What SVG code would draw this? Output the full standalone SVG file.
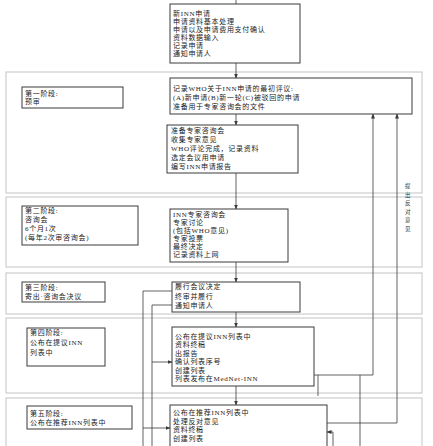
<svg xmlns="http://www.w3.org/2000/svg" width="433" height="446" viewBox="0 0 433 446">
<style>
.band{fill:none;stroke:#c4c4c4;stroke-width:1}
.box{fill:#fff;stroke:#3a3a3a;stroke-width:1}
.t{font-family:"Liberation Serif","Noto Sans CJK SC",serif;font-size:7px;letter-spacing:0.7px;fill:#222}
.vt{font-family:"Noto Sans CJK SC",sans-serif;font-size:5.5px;fill:#333}
.c{fill:none;stroke:#3a3a3a;stroke-width:0.8}
</style>
<defs>
<marker id="ah" markerWidth="5" markerHeight="5" refX="4.5" refY="2.5" orient="auto" markerUnits="userSpaceOnUse">
<path d="M0,0.5 L5,2.5 L0,4.5 Z" fill="#3a3a3a"/>
</marker>
</defs>
<g id="bands">
<rect class="band" x="6" y="72" width="416" height="121"/>
<rect class="band" x="6" y="197" width="416" height="70"/>
<rect class="band" x="6" y="273" width="416" height="41"/>
<rect class="band" x="6" y="318" width="416" height="75"/>
<rect class="band" x="6" y="398" width="416" height="52"/>
</g>
<g id="connectors">
<line class="c" x1="236" y1="0" x2="236" y2="4"/>
<line class="c" x1="236" y1="63" x2="236" y2="78" marker-end="url(#ah)"/>
<line class="c" x1="236" y1="114" x2="236" y2="125" marker-end="url(#ah)"/>
<line class="c" x1="236" y1="173" x2="236" y2="209" marker-end="url(#ah)"/>
<line class="c" x1="236" y1="262" x2="236" y2="282" marker-end="url(#ah)"/>
<line class="c" x1="236" y1="312" x2="236" y2="327" marker-end="url(#ah)"/>
<line class="c" x1="236" y1="386" x2="236" y2="405" marker-end="url(#ah)"/>
<polyline class="c" points="172,291 143,291 143,446"/>
<polyline class="c" points="172,305 152,305 152,446"/>
<polyline class="c" points="152,362 172,362" marker-end="url(#ah)"/>
<polyline class="c" points="143,428 170,428" marker-end="url(#ah)"/>
<polyline class="c" points="314,375 373,375 373,114" marker-end="url(#ah)"/>
<polyline class="c" points="327,423 397,423 397,114" marker-end="url(#ah)"/>
<polyline class="c" points="318,396 318,375"/>
<polyline class="c" points="360,375 360,446"/>
<polyline class="c" points="333,446 333,432 327,432" marker-end="url(#ah)"/>
</g>
<g id="nodeA">
<rect class="box" x="170" y="4" width="130" height="59"/>
<text class="t" x="173" y="16"><tspan x="173">新INN申请</tspan><tspan x="173" dy="8">申请资料基本处理</tspan><tspan x="173" dy="8">申请以及申请费用支付确认</tspan><tspan x="173" dy="8">资料数据输入</tspan><tspan x="173" dy="8">记录申请</tspan><tspan x="173" dy="8">通知申请人</tspan></text>
</g>
<g id="nodeB">
<rect class="box" x="170" y="78" width="242" height="36"/>
<text class="t" x="173" y="91"><tspan x="173">记录WHO关于INN申请的最初评议:</tspan><tspan x="173" dy="9">(A)新申请(B)新一轮(C)被驳回的申请</tspan><tspan x="173" dy="9">准备用于专家咨询会的文件</tspan></text>
</g>
<g id="phase1">
<rect class="box" x="22" y="87" width="101" height="21"/>
<text class="t" x="25" y="96"><tspan x="25">第一阶段:</tspan><tspan x="25" dy="8">预审</tspan></text>
</g>
<g id="nodeC">
<rect class="box" x="167" y="125" width="131" height="48"/>
<text class="t" x="171" y="133"><tspan x="171">准备专家咨询会</tspan><tspan x="171" dy="9">收集专家意见</tspan><tspan x="171" dy="9">WHO评论完成，记录资料</tspan><tspan x="171" dy="9">选定会议用申请</tspan><tspan x="171" dy="9">编写INN申请报告</tspan></text>
</g>
<g id="sidenote">
<text class="vt" x="405" y="188"><tspan x="405">提</tspan><tspan x="405" dy="8.5">出</tspan><tspan x="405" dy="8.5">反</tspan><tspan x="405" dy="8.5">对</tspan><tspan x="405" dy="8.5">意</tspan><tspan x="405" dy="8.5">见</tspan></text>
</g>
<g id="phase2">
<rect class="box" x="22" y="206" width="116" height="39"/>
<text class="t" x="25" y="213"><tspan x="25">第二阶段:</tspan><tspan x="25" dy="9">咨询会</tspan><tspan x="25" dy="9">6个月1次</tspan><tspan x="25" dy="9">(每年2次审咨询会)</tspan></text>
</g>
<g id="nodeD">
<rect class="box" x="170" y="209" width="118" height="53"/>
<text class="t" x="173" y="217"><tspan x="173">INN专家咨询会</tspan><tspan x="173" dy="8">专家讨论</tspan><tspan x="173" dy="8">(包括WHO意见)</tspan><tspan x="173" dy="8">专家投票</tspan><tspan x="173" dy="8">最终决定</tspan><tspan x="173" dy="8">记录资料上网</tspan></text>
</g>
<g id="phase3">
<rect class="box" x="22" y="282" width="83" height="20"/>
<text class="t" x="25" y="290"><tspan x="25">第三阶段:</tspan><tspan x="25" dy="9">寄出·咨询会决议</tspan></text>
</g>
<g id="nodeE">
<rect class="box" x="172" y="282" width="128" height="30"/>
<text class="t" x="175" y="289"><tspan x="175">履行会议决定</tspan><tspan x="175" dy="9.5">终审并履行</tspan><tspan x="175" dy="9.5">通知申请人</tspan></text>
</g>
<g id="phase4">
<rect class="box" x="27" y="328" width="78" height="38"/>
<text class="t" x="30" y="335"><tspan x="30">第四阶段:</tspan><tspan x="30" dy="10">公布在提议INN</tspan><tspan x="30" dy="10">列表中</tspan></text>
</g>
<g id="nodeF">
<rect class="box" x="172" y="327" width="142" height="59"/>
<text class="t" x="175" y="339"><tspan x="175">公布在提议INN列表中</tspan><tspan x="175" dy="8.4">资料终稿</tspan><tspan x="175" dy="8.4">出报告</tspan><tspan x="175" dy="8.4">确认列表序号</tspan><tspan x="175" dy="8.4">创建列表</tspan><tspan x="175" dy="8.4">列表发布在MedNet-INN</tspan></text>
</g>
<g id="phase5">
<rect class="box" x="27" y="406" width="105" height="23"/>
<text class="t" x="30" y="416"><tspan x="30">第五阶段:</tspan><tspan x="30" dy="9">公布在推荐INN列表中</tspan></text>
</g>
<g id="nodeG">
<rect class="box" x="170" y="405" width="157" height="45"/>
<text class="t" x="173" y="415"><tspan x="173">公布在推荐INN列表中</tspan><tspan x="173" dy="8.7">处理反对意见</tspan><tspan x="173" dy="8.7">资料终稿</tspan><tspan x="173" dy="8.7">创建列表</tspan></text>
</g>
</svg>
